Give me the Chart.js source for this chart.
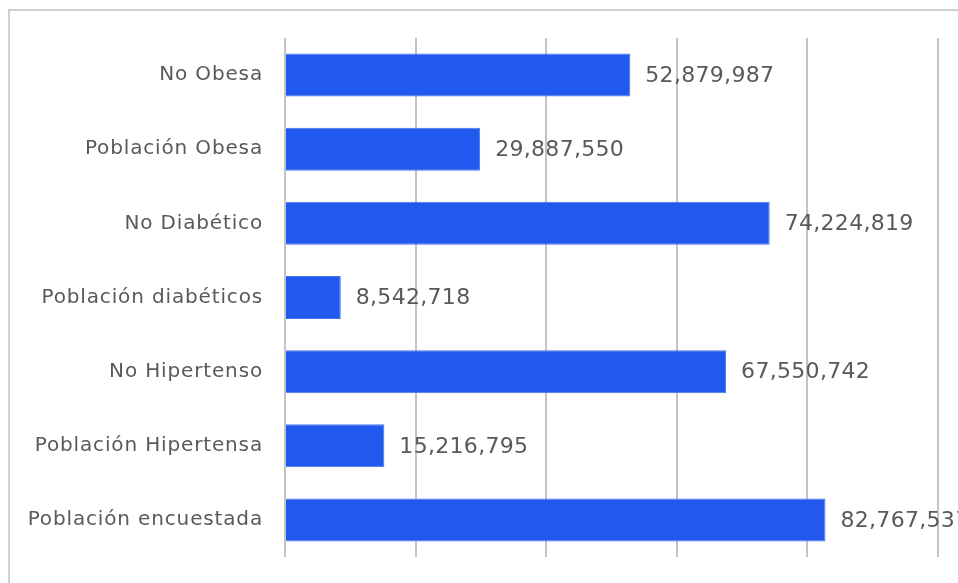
<!DOCTYPE html>
<html><head><meta charset="utf-8">
<script src="https://cdn.jsdelivr.net/npm/chart.js@4"></script>
<style>html,body{margin:0;padding:0;background:#fff;overflow:hidden}#wrap{width:958px;height:583px;position:relative}</style>
</head><body><div id="wrap"><canvas id="c" width="958" height="583"></canvas></div>
<script>
const categories = ["No Obesa","Población Obesa","No Diabético","Población diabéticos","No Hipertenso","Población Hipertensa","Población encuestada"];
const values = [52879987, 29887550, 74224819, 8542718, 67550742, 15216795, 82767537];
const axisMax = 100000000;
const axisStep = 20000000;

const FONT = "'DejaVu Sans', sans-serif";
const frame = {
  id:'frame',
  beforeDraw(chart){
    const ctx = chart.ctx; ctx.save();
    ctx.fillStyle='#fff'; ctx.fillRect(0,0,chart.width,chart.height);
    ctx.strokeStyle='#cfcfcf'; ctx.lineWidth=2;
    ctx.strokeRect(9,10,chart.width+20,chart.height+20);
    ctx.restore();
    ctx.letterSpacing='0.85px';
  }
};
const labels = {
  id:'vlabels',
  afterDatasetsDraw(chart){
    const ctx = chart.ctx; ctx.save();
    ctx.font = "22px " + FONT; ctx.fillStyle='#595959';
    ctx.letterSpacing='0.3px';
    ctx.textAlign='left'; ctx.textBaseline='middle';
    chart.getDatasetMeta(0).data.forEach((b,i)=>{
      ctx.fillText(values[i].toLocaleString('en-US'), b.x+15, b.y+1);
    });
    ctx.restore();
  }
};
new Chart(document.getElementById('c'),{
  type:'bar',
  data:{labels:categories,datasets:[{data:values,backgroundColor:'#2159EF',borderColor:'#4474EE',borderWidth:1,categoryPercentage:1,barPercentage:0.58}]},
  options:{
    indexAxis:'y',responsive:false,animation:false,
    layout:{padding:{top:38,bottom:19,right:20,left:0}},
    plugins:{legend:{display:false},tooltip:{enabled:false}},
    scales:{
      x:{min:0,max:axisMax,ticks:{display:false,stepSize:axisStep},border:{display:false},
         grid:{color:'#c4c4c4',lineWidth:2,drawTicks:false}},
      y:{grid:{display:false},border:{display:false},
         ticks:{color:'#595959',font:{family:FONT,size:20},padding:14},
         afterFit(s){s.width=285;}}
    }
  },
  plugins:[frame,labels]
});
</script></body></html>
